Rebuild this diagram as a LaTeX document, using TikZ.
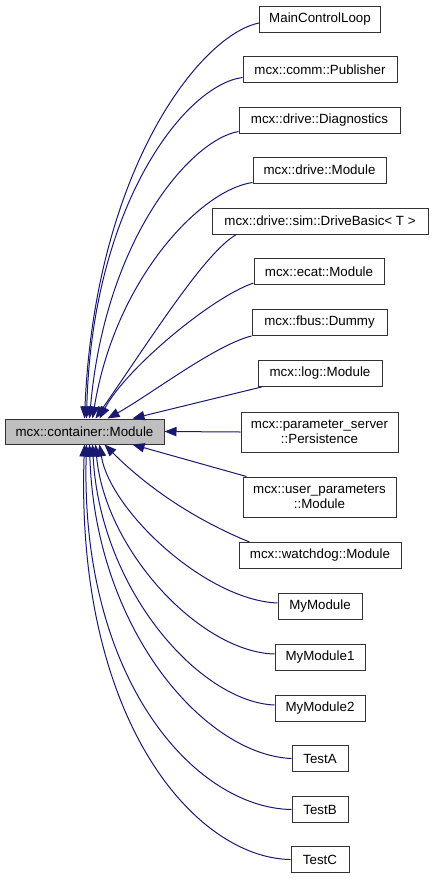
\documentclass[tikz,border=0pt]{standalone}
\usepackage{fontspec}
\setmainfont{Liberation Sans}
\usetikzlibrary{arrows.meta,calc}
\definecolor{edgeblue}{HTML}{191970}
\definecolor{boxgray}{HTML}{BFBFBF}
\definecolor{boxline}{HTML}{333333}
\begin{document}
\begin{tikzpicture}[x=0.75pt,y=-0.75pt,
  cls/.style={draw=boxline, line width=0.75pt, fill=white, inner sep=0pt,
    minimum height=19.5pt, font=\fontsize{10}{11.25}\selectfont, align=center},
  twoline/.style={minimum height=30pt},
  edge/.style={draw=edgeblue, line width=0.75pt,
    -{Triangle[length=9pt,width=7pt,fill=edgeblue]}}]
\useasboundingbox (0,0) rectangle (433,879);

\node[cls, fill=boxgray, minimum width=119.25pt, minimum height=18.75pt] (main) at (84.5,431.5) {mcx::container::Module};

\node[cls, minimum width=90.75pt]  (mcl)  at (320,19)    {MainControlLoop};
\node[cls, minimum width=115.5pt]  (pub)  at (320,69.5)  {mcx::comm::Publisher};
\node[cls, minimum width=120.75pt] (diag) at (319.5,120) {mcx::drive::Diagnostics};
\node[cls, minimum width=99.75pt]  (dmod) at (319.5,170) {mcx::drive::Module};
\node[cls, minimum width=162pt]    (db)   at (320,221)   {mcx::drive::sim::DriveBasic< T >};
\node[cls, minimum width=97.5pt]   (ecat) at (319,271.5) {mcx::ecat::Module};
\node[cls, minimum width=101.25pt] (fbus) at (319.5,322.5) {mcx::fbus::Dummy};
\node[cls, minimum width=93pt]     (log)  at (320,373.5) {mcx::log::Module};
\node[cls, twoline, minimum width=117.75pt] (pers) at (319.5,432) {mcx::parameter\_server\\::Persistence};
\node[cls, twoline, minimum width=114.75pt] (up)   at (319.5,497) {mcx::user\_parameters\\::Module};
\node[cls, minimum width=121.5pt]  (wd)   at (320,555.5) {mcx::watchdog::Module};
\node[cls, minimum width=63pt]     (mm)   at (320,606)   {MyModule};
\node[cls, minimum width=67.5pt]   (mm1)  at (320,657)   {MyModule1};
\node[cls, minimum width=67.5pt]   (mm2)  at (320,708)   {MyModule2};
\node[cls, minimum width=42pt]     (ta)   at (320,758.5) {TestA};
\node[cls, minimum width=42pt]     (tb)   at (320,809.5) {TestB};
\node[cls, minimum width=43.5pt]   (tc)   at (320,859.5) {TestC};

% upper edges
\draw[edge] ($(mcl.west)+(0,4)$) .. controls (200,35) and (95,170) .. ($(main.north west)+(80,0)$);
\draw[edge] ($(pub.west)+(0,8)$) .. controls (185,85) and (92,205) .. ($(main.north west)+(82,0)$);
\draw[edge] ($(diag.south west)+(0,-2)$) .. controls (190,140) and (105,240) .. ($(main.north west)+(85,0)$);
\draw[edge] ($(dmod.south west)+(0,-1)$) .. controls (200,190) and (115,280) .. ($(main.north west)+(88,0)$);
\draw[edge] ($(db.south west)+(25,0)$) .. controls (205,252) and (150,340) .. ($(main.north west)+(91,0)$);
\draw[edge] ($(ecat.south west)+(0,-2)$) .. controls (210,298) and (125,370) .. ($(main.north west)+(95,0)$);
\draw[edge] (fbus.south west) .. controls (215,345) and (150,395) .. ($(main.north west)+(103,0)$);
\draw[edge] ($(log.south west)+(4,0)$) -- ($(main.north west)+(128,0)$);

% middle edge
\draw[edge] (pers.west) -- (main.east);

% lower edges
\draw[edge] ($(up.north west)+(4,0)$) -- ($(main.south west)+(128,0)$);
\draw[edge] ($(wd.north west)+(11,0)$) .. controls (215,528) and (160,500) .. ($(main.south west)+(100,0)$);
\draw[edge] ($(mm.west)+(0,-3)$) .. controls (205,600) and (110,510) .. ($(main.south west)+(95,0)$);
\draw[edge] ($(mm1.west)+(0,-3)$) .. controls (200,652) and (105,550) .. ($(main.south west)+(91,0)$);
\draw[edge] ($(mm2.west)+(0,-3)$) .. controls (200,702) and (100,590) .. ($(main.south west)+(88,0)$);
\draw[edge] (ta.west) .. controls (205,755) and (95,630) .. ($(main.south west)+(85,0)$);
\draw[edge] (tb.west) .. controls (195,808) and (80,680) .. ($(main.south west)+(82,0)$);
\draw[edge] (tc.west) .. controls (195,858) and (75,720) .. ($(main.south west)+(80,0)$);
\end{tikzpicture}
\end{document}
